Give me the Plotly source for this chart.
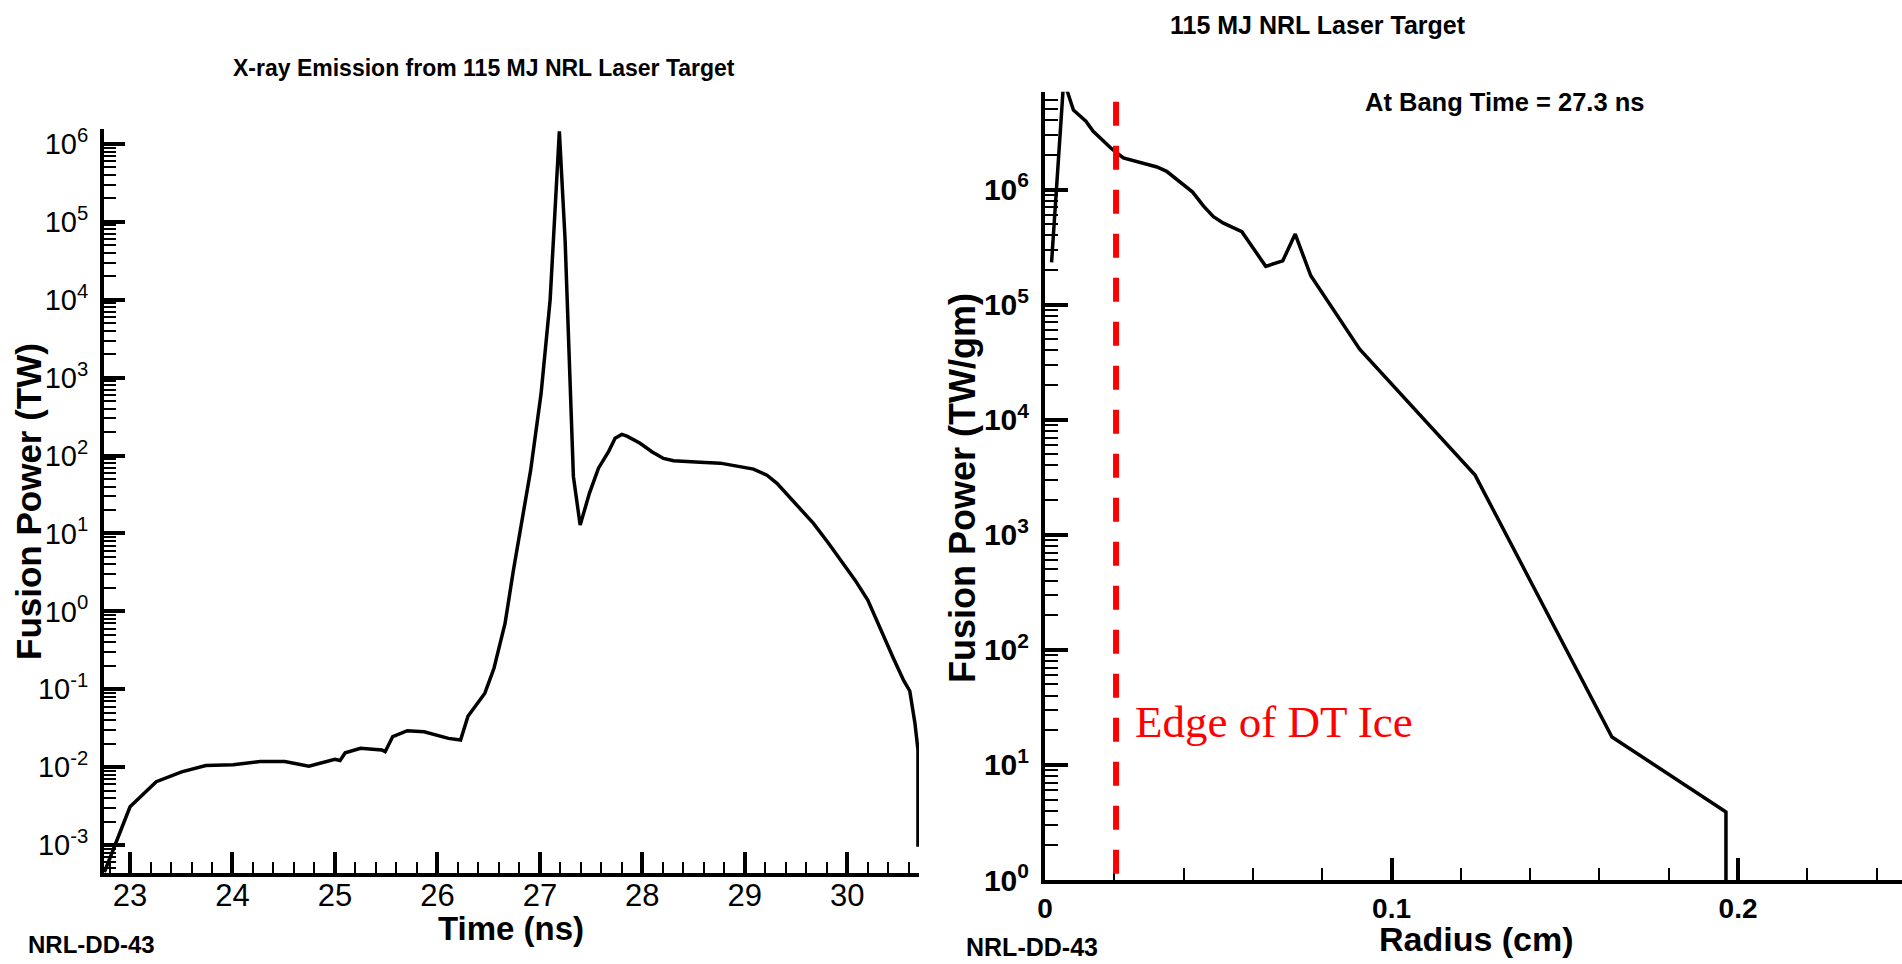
import plotly.graph_objects as go

W, H = 1902, 964

# ---------------- Left panel: X-ray emission vs time ----------------
time_ns = [22.75, 23.0, 23.256, 23.504, 23.74, 24.007, 24.27, 24.51, 24.746, 25.0, 25.05,
           25.10, 25.25, 25.457, 25.49, 25.564, 25.706, 25.87, 26.108, 26.226, 26.298,
           26.463, 26.552, 26.66, 26.742, 26.81, 26.91, 27.012, 27.05, 27.1, 27.19,
           27.246, 27.327, 27.393, 27.484, 27.572, 27.67, 27.734, 27.80, 27.85, 27.978,
           28.093, 28.206, 28.304, 28.565, 28.76, 29.085, 29.216, 29.314, 29.509, 29.67,
           29.817, 29.98, 30.078, 30.2, 30.32, 30.45, 30.55, 30.61, 30.66, 30.69, 30.69]
xray_power_tw = [4.5e-4, 3.1e-3, 6.5e-3, 8.7e-3, 1.05e-2, 1.07e-2, 1.18e-2, 1.18e-2, 1.03e-2,
                 1.26e-2, 1.22e-2, 1.53e-2, 1.75e-2, 1.66e-2, 1.58e-2, 2.47e-2, 2.94e-2,
                 2.85e-2, 2.34e-2, 2.23e-2, 4.5e-2, 8.9e-2, 0.186, 0.70, 3.4, 11, 65, 630,
                 2000, 1.0e4, 1.45e6, 5.9e4, 54, 12.8, 33, 69, 112, 167, 187, 178, 144,
                 112, 92, 86, 82, 80, 67, 56, 44, 23, 13.5, 7.5, 3.75, 2.5, 1.4, 0.6,
                 0.25, 0.13, 0.095, 0.037, 0.0166, 9.5e-4]

left_x_tickvals = [23, 24, 25, 26, 27, 28, 29, 30]
left_x_ticktext = ["23", "24", "25", "26", "27", "28", "29", "30"]
left_y_tickvals = [1e-3, 1e-2, 1e-1, 1e0, 1e1, 1e2, 1e3, 1e4, 1e5, 1e6]
left_y_ticktext = ["10<sup>-3</sup>", "10<sup>-2</sup>", "10<sup>-1</sup>", "10<sup>0</sup>",
                   "10<sup>1</sup>", "10<sup>2</sup>", "10<sup>3</sup>", "10<sup>4</sup>",
                   "10<sup>5</sup>", "10<sup>6</sup>"]

# ---------------- Right panel: fusion power vs radius ----------------
radius_cm = [0.0019, 0.0054, 0.0082, 0.0118, 0.0139, 0.0168, 0.0193, 0.0226, 0.0284, 0.0323,
             0.0351, 0.039, 0.0426, 0.0457, 0.0486, 0.0515, 0.0568, 0.0637, 0.0686, 0.0722,
             0.0767, 0.0908, 0.1241, 0.1636, 0.1965, 0.1965]
fusion_power_tw_gm = [2.33e5, 8.9e6, 4.9e6, 3.93e6, 3.21e6, 2.63e6, 2.25e6, 1.88e6, 1.68e6,
                      1.57e6, 1.44e6, 1.16e6, 9.5e5, 7.2e5, 5.8e5, 5.1e5, 4.3e5, 2.15e5,
                      2.4e5, 4.1e5, 1.78e5, 4.1e4, 3.3e3, 17.5, 3.9, 1.0]

edge_of_dt_ice_cm = 0.0205

right_x_tickvals = [0, 0.1, 0.2]
right_x_ticktext = ["0", "0.1", "0.2"]
right_y_tickvals = [1e0, 1e1, 1e2, 1e3, 1e4, 1e5, 1e6]
right_y_ticktext = ["10<sup>0</sup>", "10<sup>1</sup>", "10<sup>2</sup>", "10<sup>3</sup>",
                    "10<sup>4</sup>", "10<sup>5</sup>", "10<sup>6</sup>"]

SANS = "Liberation Sans, Arial, sans-serif"
SERIF = "Liberation Serif, Times New Roman, serif"


def fx(px):
    return px / W


def fy(py):
    return 1 - py / H


fig = go.Figure()
fig.add_trace(go.Scatter(x=time_ns, y=xray_power_tw, mode="lines",
                         line=dict(color="black", width=3.5), xaxis="x", yaxis="y",
                         showlegend=False, hoverinfo="skip"))
fig.add_trace(go.Scatter(x=radius_cm, y=fusion_power_tw_gm, mode="lines",
                         line=dict(color="black", width=3.5), xaxis="x2", yaxis="y2",
                         showlegend=False, hoverinfo="skip"))

axis_common = dict(showline=True, linecolor="black", showgrid=False, zeroline=False,
                   ticks="inside", tickcolor="black", mirror=False, automargin=False)

fig.update_layout(
    width=W, height=H, autosize=False,
    margin=dict(l=0, r=0, t=0, b=0, pad=0, autoexpand=False),
    paper_bgcolor="white", plot_bgcolor="white",
    showlegend=False,
    xaxis=dict(domain=[fx(104), fx(919)], range=[22.746, 30.70], anchor="y",
               tickmode="array", tickvals=left_x_tickvals, ticktext=left_x_ticktext,
               ticklen=21, tickwidth=3.5, linewidth=4, ticklabelstandoff=-8,
               tickfont=dict(family=SANS, size=31, color="black"),
               minor=dict(ticks="inside", dtick=0.2, tick0=22, ticklen=11, tickwidth=1.5,
                          tickcolor="black", showgrid=False),
               **axis_common),
    yaxis=dict(domain=[fy(873), fy(129)], type="log", range=[-3.359, 6.193], anchor="x",
               tickmode="array", tickvals=left_y_tickvals, ticktext=left_y_ticktext,
               ticklen=21, tickwidth=4, linewidth=4, ticklabelstandoff=6,
               tickfont=dict(family=SANS, size=29, color="black"),
               minor=dict(ticks="inside", dtick="D1", ticklen=12, tickwidth=1.5,
                          tickcolor="black", showgrid=False),
               **axis_common),
    xaxis2=dict(domain=[fx(1045), 1.0], range=[0, 0.2473], anchor="y2",
                tickmode="array", tickvals=right_x_tickvals, ticktext=right_x_ticktext,
                ticklen=22, tickwidth=4, linewidth=4,
                tickfont=dict(family=SANS, size=28, color="black", weight="bold"),
                minor=dict(ticks="inside", dtick=0.02, tick0=0, ticklen=12, tickwidth=1.5,
                           tickcolor="black", showgrid=False),
                **axis_common),
    yaxis2=dict(domain=[fy(880), fy(91.7)], type="log", range=[0, 6.85], anchor="x2",
                tickmode="array", tickvals=right_y_tickvals, ticktext=right_y_ticktext,
                ticklen=23, tickwidth=4, linewidth=4, ticklabelstandoff=6,
                tickfont=dict(family=SANS, size=30, color="black", weight="bold"),
                minor=dict(ticks="inside", dtick="D1", ticklen=13, tickwidth=1.5,
                           tickcolor="black", showgrid=False),
                **axis_common),
)

# Edge of DT ice marker
fig.add_shape(type="line", xref="x2", yref="paper",
              x0=edge_of_dt_ice_cm, x1=edge_of_dt_ice_cm, y0=fy(101.7), y1=fy(887),
              line=dict(color="#ff0000", width=6, dash="24px,20px"), layer="above")


def note(text, x, y, size, bold=True, family=SANS, color="black", xanchor="center",
         yanchor="middle", angle=0):
    fig.add_annotation(text=text, x=fx(x), y=fy(y), xref="paper", yref="paper",
                       showarrow=False, xanchor=xanchor, yanchor=yanchor, textangle=angle,
                       font=dict(family=family, size=size, color=color,
                                 weight="bold" if bold else "normal"))


note("X-ray Emission from 115 MJ NRL Laser Target", 484, 68, 23)
note("115 MJ NRL Laser Target", 1318, 25, 25)
note("At Bang Time = 27.3 ns", 1363, 102, 25.5, xanchor="left")
note("NRL-DD-43", 26, 944, 24, xanchor="left")
note("NRL-DD-43", 964, 947, 25, xanchor="left")
note("Time (ns)", 511, 928, 33)
note("Radius (cm)", 1476, 939, 34)
note("Fusion Power (TW)", 28, 502, 35, angle=-90)
note("Fusion Power (TW/gm)", 962, 488, 36, angle=-90)
note("Edge of DT Ice", 1133, 722, 45, bold=False, family=SERIF, color="#ff0000",
     xanchor="left")

fig.write_html("out.html")
